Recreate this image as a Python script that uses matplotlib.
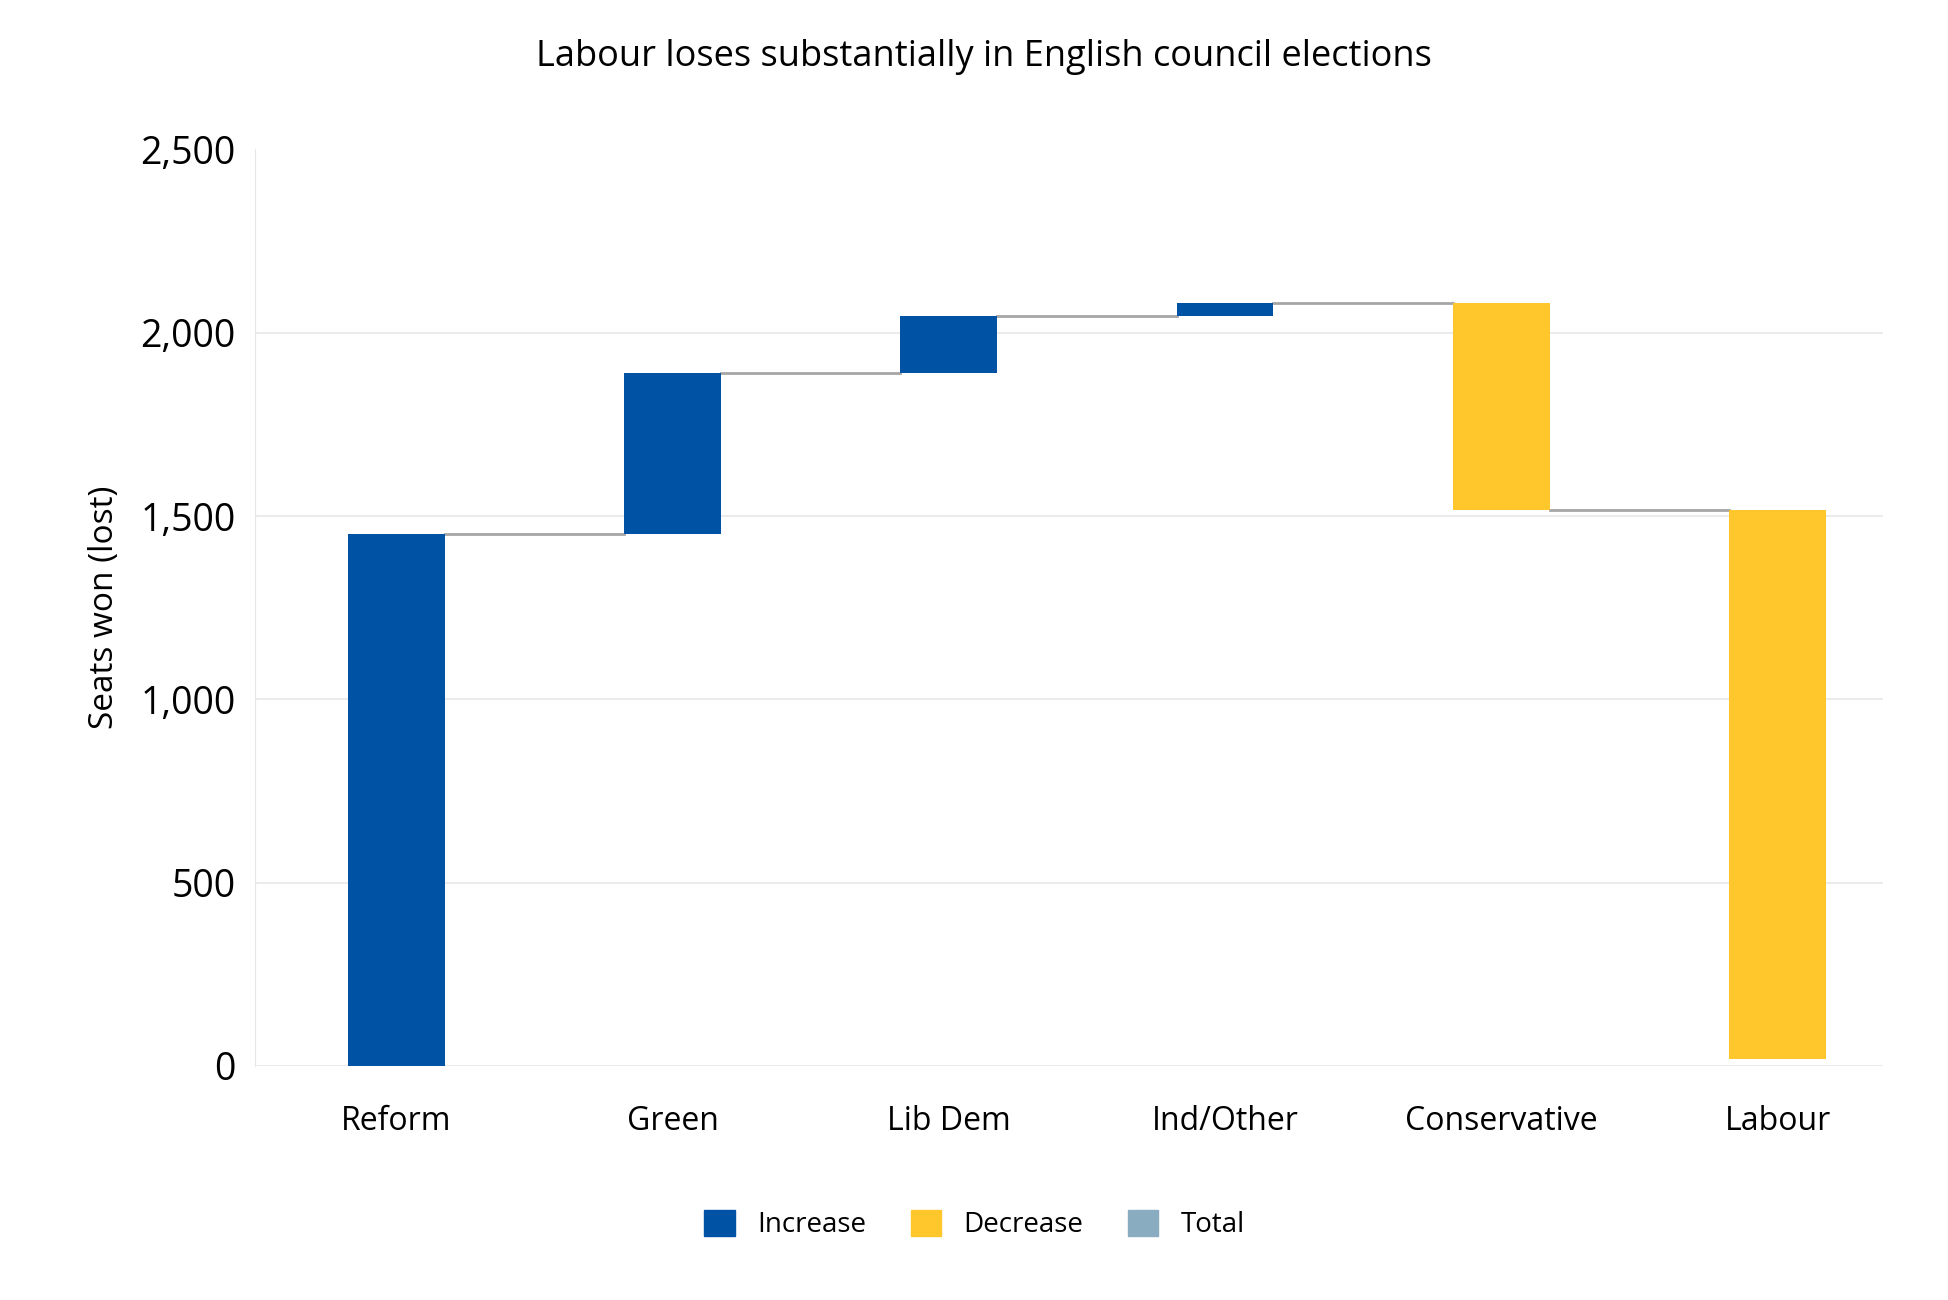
import numpy as np
import matplotlib.pyplot as plt
from matplotlib.patches import Patch

parties = ["Reform", "Green", "Lib Dem", "Ind/Other", "Conservative", "Labour"]
changes = [1450, 440, 157, 34, -565, -1496]

blue = "#0052A5"
yellow = "#FFC72C"
total_col = "#8AACC0"

plt.rcParams['font.family'] = ['Open Sans', 'DejaVu Sans']

fig = plt.figure(figsize=(19.49, 13), dpi=100)
ax = fig.add_axes([0.131, 0.18, 0.835, 0.705])

ends = np.cumsum(changes)
starts = ends - np.array(changes)
x = np.arange(len(parties))
w = 0.35
colors = [blue if c >= 0 else yellow for c in changes]
ax.bar(x, changes, bottom=starts, width=w, color=colors, zorder=3)

# connector lines between bars
for i in range(len(parties) - 1):
    ax.plot([x[i] + w / 2, x[i + 1] - w / 2], [ends[i], ends[i]],
            color="#A6A6A6", lw=2, zorder=2)

ax.set_xlim(-0.51, 5.38)
ax.set_ylim(0, 2500)
ax.set_yticks(range(0, 2501, 500))
ax.set_yticklabels([f"{v:,}" for v in range(0, 2501, 500)], fontsize=27)
ax.set_xticks(x)
ax.set_xticklabels(parties, fontsize=23)
ax.tick_params(length=0, pad=14)
ax.tick_params(axis='x', pad=28)
ax.grid(axis='y', color="#EBEBEB", lw=1.5, zorder=0)
for s in ["top", "right", "bottom"]:
    ax.spines[s].set_visible(False)
ax.spines["left"].set_color("#E6E6E6")
ax.set_ylabel("Seats won (lost)", fontsize=24, labelpad=14)
fig.suptitle("Labour loses substantially in English council elections",
             fontsize=26, x=0.505, y=0.97)

handles = [Patch(color=blue, label="Increase"),
           Patch(color=yellow, label="Decrease"),
           Patch(color=total_col, label="Total")]
fig.legend(handles=handles, loc="center", bbox_to_anchor=(0.5, 0.058),
           ncol=3, frameon=False, fontsize=20, handlelength=1.1,
           handleheight=1.1, columnspacing=1.6)

fig.savefig("out.png", dpi=100)
